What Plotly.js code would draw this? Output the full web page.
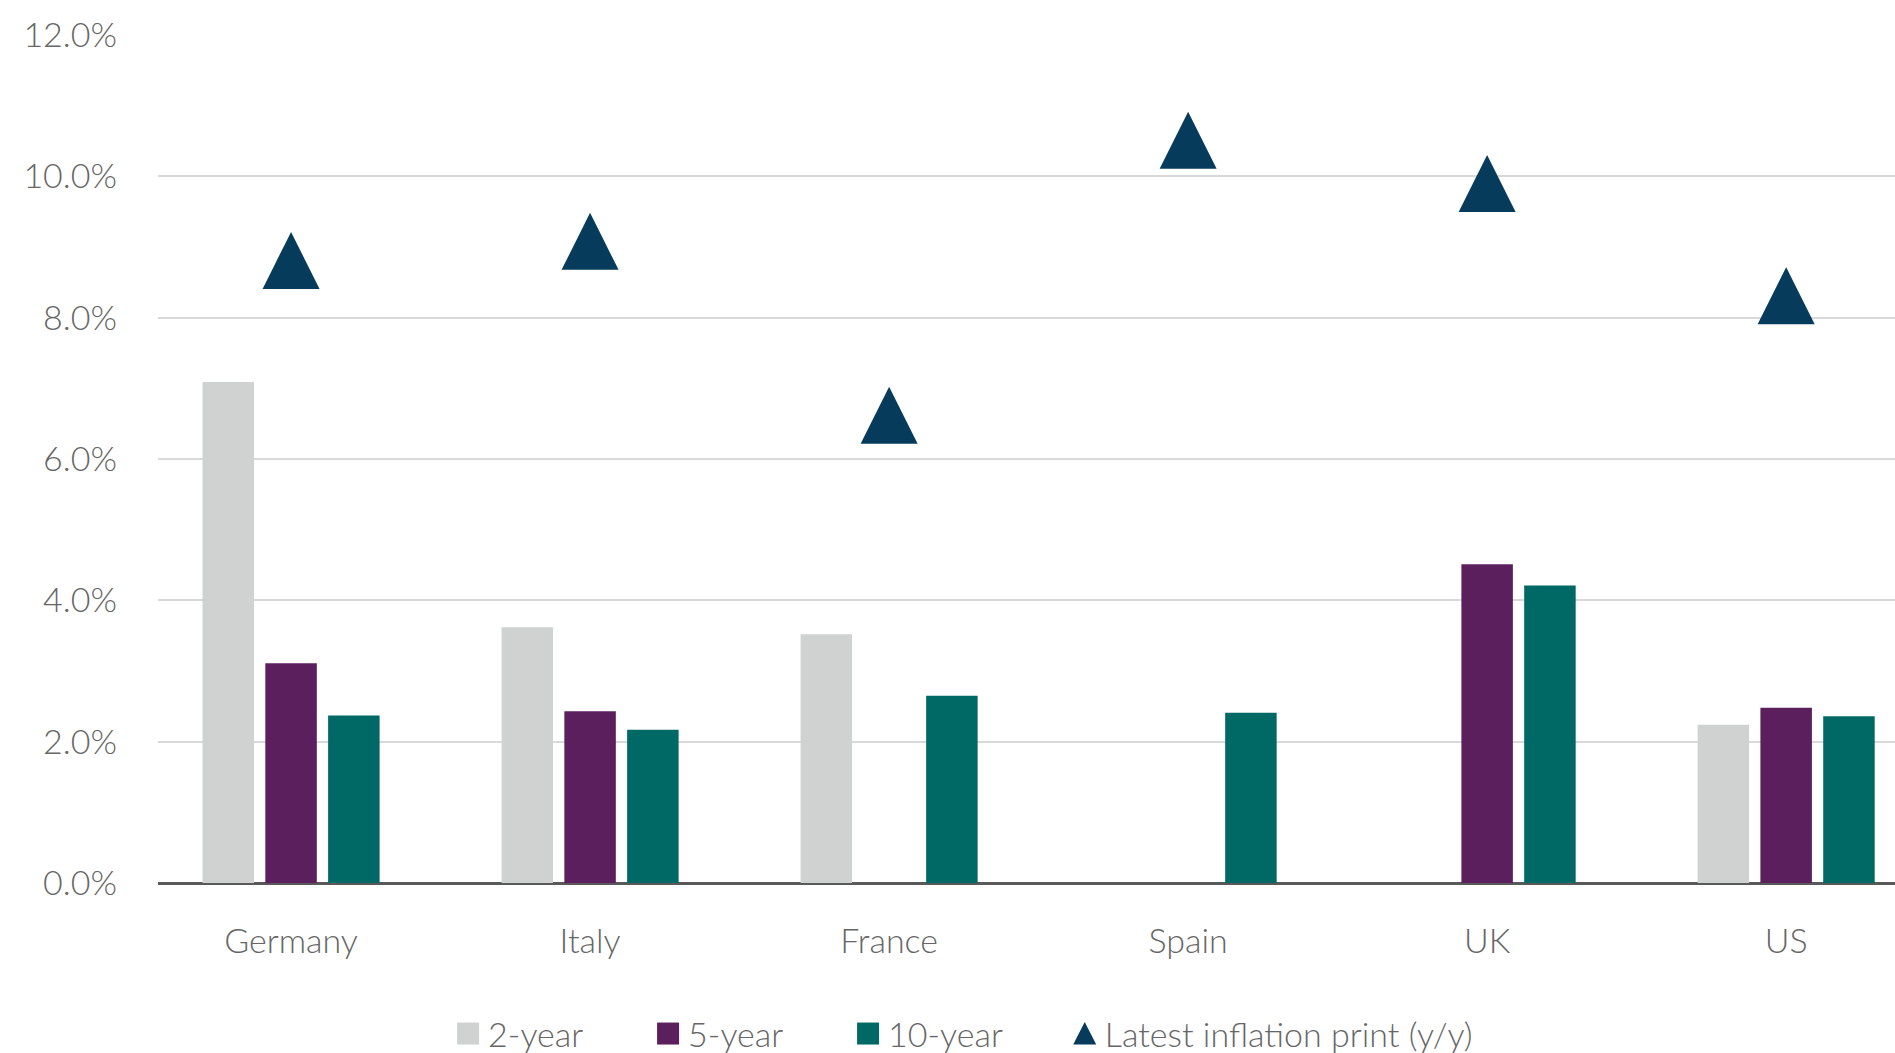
<!DOCTYPE html>
<html>
<head>
<meta charset="utf-8">
<script src="https://cdn.plot.ly/plotly-3.0.1.min.js"></script>
<style>
  html, body { margin: 0; padding: 0; background: #ffffff; }
  #chart { width: 1895px; height: 1053px; }
</style>
</head>
<body>
<div id="chart"></div>
<script>
// ---- Data (percent) ----
var countries = ["Germany", "Italy", "France", "Spain", "UK", "US"];
var twoYear   = [7.09, 3.62, 3.52, null, null, 2.24];
var fiveYear  = [3.11, 2.43, null, null, 4.51, 2.48];
var tenYear   = [2.37, 2.17, 2.65, 2.41, 4.21, 2.36];
var inflation = [8.81, 9.08, 6.62, 10.51, 9.90, 8.31];
var yTickVals = [0, 2, 4, 6, 8, 10, 12];
var yTickText = ["0.0%", "2.0%", "4.0%", "6.0%", "8.0%", "10.0%", "12.0%"];
var seriesNames = ["2-year", "5-year", "10-year", "Latest inflation print (y/y)"];

var FONT = "Lato, 'Open Sans', sans-serif";
var TXT = "#666666";
var FS = 34;
var triSize = 57;

var traces = [
  { type: "bar", name: seriesNames[0], x: countries, y: twoYear,
    marker: { color: "#D0D2D1" }, legend: "legend" },
  { type: "bar", name: seriesNames[1], x: countries, y: fiveYear,
    marker: { color: "#5B1F5E" }, legend: "legend" },
  { type: "bar", name: seriesNames[2], x: countries, y: tenYear,
    marker: { color: "#006966" }, legend: "legend" },
  { type: "scatter", mode: "markers", name: seriesNames[3], x: countries, y: inflation,
    marker: { symbol: "arrow-down", angle: 180, standoff: triSize / 2, size: triSize,
              color: "#073B5C", line: { width: 0 } },
    legend: "legend2" }
];

var legendFont = { family: FONT, size: FS, color: TXT, weight: 300 };

var layout = {
  width: 1895, height: 1053,
  margin: { l: 158, r: 0, t: 35, b: 170, pad: 0, autoexpand: false },
  paper_bgcolor: "#ffffff", plot_bgcolor: "#ffffff",
  font: { family: FONT, size: FS, color: TXT, weight: 300 },
  barmode: "group",
  bargap: 0.37,
  bargroupgap: 0.18,
  showlegend: true,
  legend: {
    orientation: "h", x: 0.167, xanchor: "left", y: -0.178, yanchor: "middle",
    font: legendFont, entrywidth: 155, entrywidthmode: "pixels",
    traceorder: "normal", bgcolor: "rgba(0,0,0,0)"
  },
  legend2: {
    orientation: "h", x: 0.522, xanchor: "left", y: -0.178, yanchor: "middle",
    font: legendFont, bgcolor: "rgba(0,0,0,0)"
  },
  xaxis: {
    type: "category",
    range: [-0.445, 5.364],
    showgrid: false, showline: false, zeroline: false,
    ticks: "", ticklabelstandoff: 35,
    tickfont: { family: FONT, size: FS, color: TXT, weight: 300 }
  },
  yaxis: {
    range: [0, 12],
    tickvals: yTickVals, ticktext: yTickText,
    showgrid: true, gridcolor: "#D9D9D9", gridwidth: 2,
    zeroline: true, zerolinecolor: "#595959", zerolinewidth: 3,
    showline: false, ticks: "",
    ticklabelstandoff: 40,
    tickfont: { family: FONT, size: FS, color: TXT, weight: 300 }
  }
};

function enlargeLegendSymbols() {
  var gd = document.getElementById("chart");
  gd.querySelectorAll("g.legendpoints path").forEach(function (p) {
    var cls = p.getAttribute("class") || "";
    if (cls.indexOf("scatterpts") >= 0) {
      p.setAttribute("d", "M-11.5,11H11.5L0,-11.5Z");
    } else if (cls.indexOf("legend") >= 0) {
      p.setAttribute("d", "M11,11H-11V-11H11Z");
    }
  });
}

var gdEl = document.getElementById("chart");
Plotly.newPlot(gdEl, traces, layout, { displayModeBar: false, staticPlot: true })
  .then(function () {
    enlargeLegendSymbols();
    gdEl.on("plotly_afterplot", enlargeLegendSymbols);
    setTimeout(enlargeLegendSymbols, 50);
  });
</script>
</body>
</html>
